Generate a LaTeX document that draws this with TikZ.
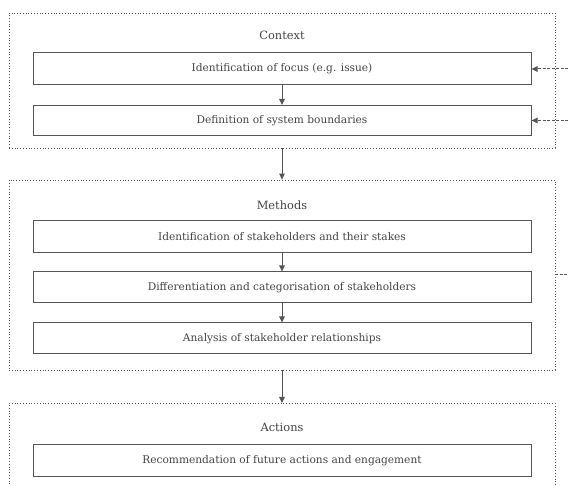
\documentclass[tikz,border=0pt]{standalone}
\usepackage{fontspec}
\setmainfont{DejaVu Serif}
\usetikzlibrary{arrows.meta,calc}
\definecolor{linec}{HTML}{555555}
\definecolor{textc}{HTML}{444444}
\begin{document}
\begin{tikzpicture}[x=1pt,y=-1pt,
  frame/.style={draw=linec, dotted, line width=0.8pt, inner sep=0pt},
  stepbox/.style={draw=linec, line width=1pt, minimum width=498pt, minimum height=32pt, inner sep=0pt, text=textc, font=\fontsize{10.6}{12}\selectfont},
  heading/.style={text=textc, font=\fontsize{11.4}{13}\selectfont},
  flow/.style={draw=linec, line width=1pt, -{Triangle[width=5.5pt,length=6pt]}},
  feedback/.style={draw=linec, line width=1pt, dash pattern=on 3pt off 1.5pt, -{Triangle[width=5.5pt,length=6pt]}},
  feedline/.style={draw=linec, line width=1pt, dash pattern=on 3pt off 1.5pt}]
\useasboundingbox (0,0) rectangle (568,486);
% frames
\node[frame, minimum width=546pt, minimum height=135pt] (ctx) at (282,80.5) {};
\node[frame, minimum width=546pt, minimum height=190pt] (met) at (282,275) {};
\coordinate (actBL) at (9,487);
\coordinate (actTL) at (9,403);
\coordinate (actTR) at (555,403);
\coordinate (actBR) at (555,487);
\draw[draw=linec, dotted, line width=0.8pt] (actBL) -- (actTL) -- (actTR) -- (actBR);
\coordinate (actTop) at (282,403);
% headings
\node[heading] (hctx) at (282,35) {Context};
\node[heading] (hmet) at (282,205) {Methods};
\node[heading] (hact) at (282,427) {Actions};
% boxes
\node[stepbox] (b1) at (282,69) {Identification of focus (e.g. issue)};
\node[stepbox, minimum height=30pt] (b2) at (282,120.5) {Definition of system boundaries};
\node[stepbox] (b3) at (282,236.5) {Identification of stakeholders and their stakes};
\node[stepbox, minimum height=31pt] (b4) at (282,287.5) {Differentiation and categorisation of stakeholders};
\node[stepbox, minimum height=31pt] (b5) at (282,338.5) {Analysis of stakeholder relationships};
\node[stepbox] (b6) at (282,460.5) {Recommendation of future actions and engagement};
% flow arrows
\draw[flow] (b1) -- (b2);
\draw[flow] (ctx) -- (met);
\draw[flow] (b3) -- (b4);
\draw[flow] (b4) -- (b5);
\draw[flow] (met) -- (actTop);
% feedback
\coordinate (f1) at (568,69);
\coordinate (f2) at (568,120.5);
\coordinate (f3s) at (555,275);
\coordinate (f3e) at (568,275);
\draw[feedback] (f1) -- (b1.east);
\draw[feedback] (f2) -- (b2.east);
\draw[feedline] (f3s) -- (f3e);
\end{tikzpicture}
\end{document}
